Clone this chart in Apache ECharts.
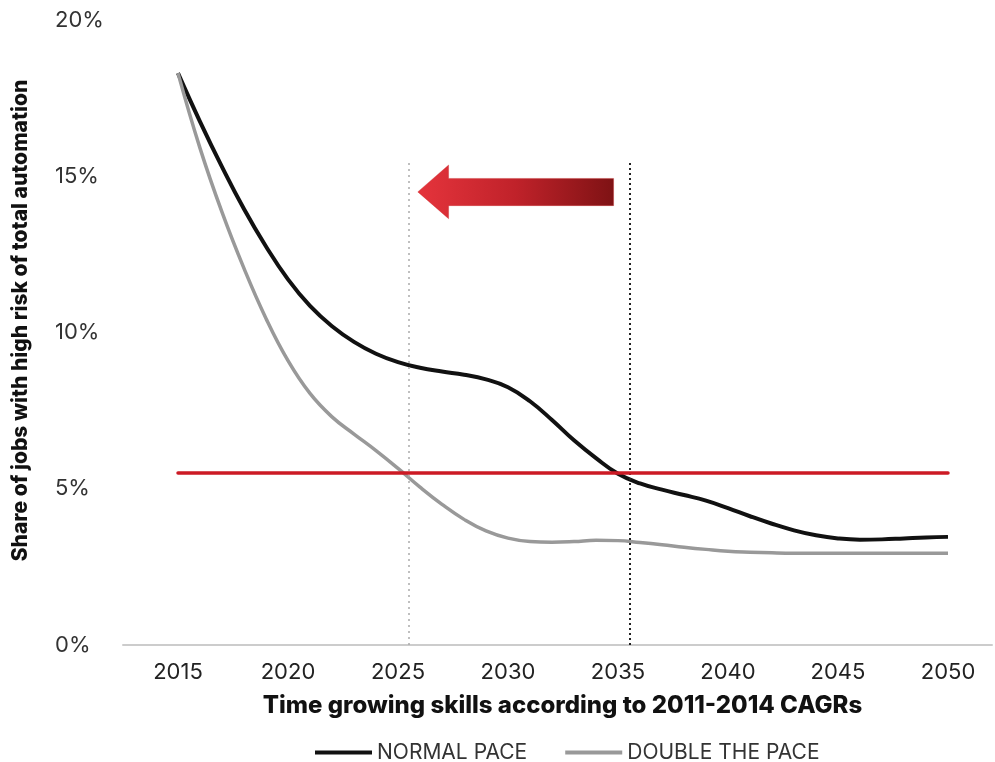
<!DOCTYPE html>
<html>
<head>
<meta charset="utf-8">
<script src="https://cdn.jsdelivr.net/npm/echarts@6/dist/echarts.min.js"></script>
<style>
  html, body { margin: 0; padding: 0; background: #ffffff; }
  #chart { width: 995px; height: 762px; }
</style>
</head>
<body>
<div id="chart"></div>
<script>
// Years on the horizontal axis
const years = [2015, 2016, 2017, 2018, 2019, 2020, 2021, 2022, 2023, 2024,
               2025, 2026, 2027, 2028, 2029, 2030, 2031, 2032, 2033, 2034,
               2035, 2036, 2037, 2038, 2039, 2040, 2041, 2042, 2043, 2044,
               2045, 2046, 2047, 2048, 2049, 2050];

// Share of jobs at high risk of total automation (%)
const normalPace = [18.3, 16.75, 15.3, 13.95, 12.75, 11.7, 10.85, 10.2, 9.7, 9.32,
                    9.05, 8.87, 8.75, 8.65, 8.5, 8.25, 7.8, 7.2, 6.55, 5.98,
                    5.48, 5.17, 4.97, 4.8, 4.62, 4.38, 4.12, 3.88, 3.67, 3.51,
                    3.41, 3.37, 3.38, 3.41, 3.44, 3.46];
const doublePace = [18.3, 15.9, 13.85, 12.05, 10.45, 9.1, 8.05, 7.3, 6.75, 6.22,
                    5.65, 5.05, 4.5, 4.02, 3.65, 3.42, 3.31, 3.29, 3.31, 3.35,
                    3.34, 3.28, 3.21, 3.13, 3.06, 3.0, 2.97, 2.95, 2.94, 2.94,
                    2.94, 2.94, 2.94, 2.94, 2.94, 2.94];

// Axis ticks
const xTickYears = [2015, 2020, 2025, 2030, 2035, 2040, 2045, 2050];
const yTicks = [0, 5, 10, 15, 20];

// Reference level and the years each pace reaches it
const thresholdLevel = 5.5;
const thresholdSpan = [2015, 2050];
const doubleReachYear = 2025.5;
const normalReachYear = 2035.55;
const guideTop = 15.5;

// Arrow outline (year, %) pointing from the normal-pace year back to the double-pace year
const arrowOutline = [
  [2025.9, 14.5], [2027.3, 15.36], [2027.3, 14.93], [2034.8, 14.93],
  [2034.8, 14.06], [2027.3, 14.06], [2027.3, 13.64]
];

const FONT = 'Inter, "Noto Sans", sans-serif';

const chart = echarts.init(document.getElementById('chart'), null, { renderer: 'canvas' });

const option = {
  animation: false,
  backgroundColor: '#ffffff',
  grid: { left: 123, right: 0, top: 20, bottom: 117, containLabel: false },
  legend: {
    left: 310,
    top: 737,
    icon: 'rect',
    itemWidth: 57,
    itemHeight: 4,
    itemGap: 38,
    textStyle: { color: '#333', fontSize: 21, fontFamily: FONT },
    data: ['NORMAL PACE', 'DOUBLE THE PACE']
  },
  xAxis: {
    type: 'value',
    min: 2012.5,
    max: 2052,
    interval: 2.5,
    name: 'Time growing skills according to 2011-2014 CAGRs',
    nameLocation: 'middle',
    nameGap: 49,
    nameTextStyle: { color: '#111', fontSize: 24, fontWeight: 800, fontFamily: FONT, padding: [0, 0, 0, 10] },
    axisLine: { show: true, lineStyle: { color: '#cccccc', width: 2 } },
    axisTick: { show: false },
    splitLine: { show: false },
    axisLabel: {
      margin: 16,
      color: '#222',
      fontSize: 22,
      fontFamily: FONT,
      formatter: v => (xTickYears.indexOf(v) >= 0 ? String(v) : '')
    }
  },
  yAxis: {
    type: 'value',
    min: yTicks[0],
    max: yTicks[yTicks.length - 1],
    interval: yTicks[1] - yTicks[0],
    name: 'Share of jobs with high risk of total automation',
    nameLocation: 'middle',
    nameRotate: 90,
    nameGap: 92,
    nameTextStyle: { color: '#111', fontSize: 21, fontWeight: 800, fontFamily: FONT, padding: [0, 0, 0, 24] },
    axisLine: { show: false },
    axisTick: { show: false },
    splitLine: { show: false },
    axisLabel: {
      margin: 68,
      align: 'left',
      color: '#333',
      fontSize: 22,
      fontFamily: FONT,
      formatter: '{value}%'
    }
  },
  series: [
    {
      name: 'NORMAL PACE',
      type: 'line',
      smooth: 0.45,
      symbol: 'none',
      color: '#111111',
      lineStyle: { color: '#111111', width: 4 },
      data: years.map((y, i) => [y, normalPace[i]]),
      z: 3,
      markLine: {
        silent: true,
        symbol: 'none',
        label: { show: false },
        data: [
          [
            { coord: [normalReachYear, 0], lineStyle: { color: '#222', width: 2, type: [2, 3] } },
            { coord: [normalReachYear, guideTop] }
          ]
        ]
      }
    },
    {
      name: 'DOUBLE THE PACE',
      type: 'line',
      smooth: 0.45,
      symbol: 'none',
      color: '#999999',
      lineStyle: { color: '#999999', width: 3.5 },
      data: years.map((y, i) => [y, doublePace[i]]),
      z: 4,
      markLine: {
        silent: true,
        symbol: 'none',
        label: { show: false },
        data: [
          [
            { coord: [doubleReachYear, 0], lineStyle: { color: '#aaaaaa', width: 1.5, type: [2, 4] } },
            { coord: [doubleReachYear, guideTop] }
          ]
        ]
      }
    },
    {
      name: 'threshold',
      type: 'line',
      data: [],
      z: 5,
      markLine: {
        silent: true,
        symbol: 'none',
        label: { show: false },
        lineStyle: { color: '#cc1a24', width: 3.5, type: 'solid', cap: 'round' },
        data: [
          [
            { coord: [thresholdSpan[0], thresholdLevel] },
            { coord: [thresholdSpan[1], thresholdLevel] }
          ]
        ]
      }
    }
  ]
};

chart.setOption(option);

// Arrow annotation placed through the chart's own coordinate system
const arrowPts = arrowOutline.map(p => chart.convertToPixel({ gridIndex: 0 }, p));
chart.setOption({
  graphic: [{
    type: 'polygon',
    z: 10,
    shape: { points: arrowPts },
    style: {
      fill: new echarts.graphic.LinearGradient(0, 0, 1, 0, [
        { offset: 0, color: '#e5343c' },
        { offset: 0.5, color: '#c0222a' },
        { offset: 1, color: '#7e1214' }
      ]),
      stroke: 'rgba(200,40,40,0.35)',
      lineWidth: 1
    }
  }]
});
</script>
</body>
</html>
